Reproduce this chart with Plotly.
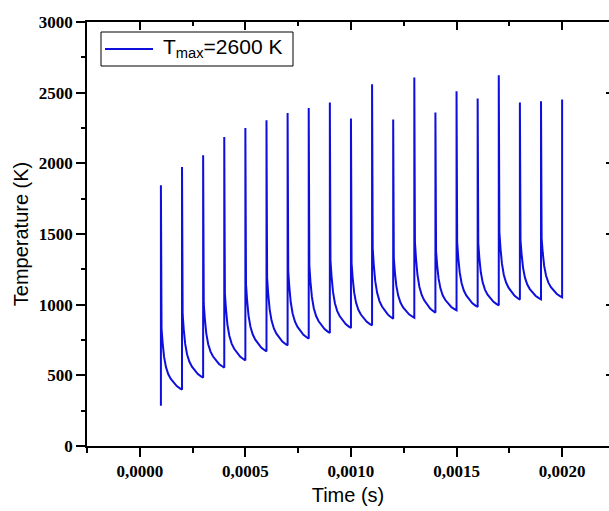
import plotly.graph_objects as go

# ---- data ----
pulse_times = [0.0001 * k for k in range(1, 21)]          # s
peak_temps = [1845, 1974, 2057, 2187, 2250, 2304, 2356, 2392, 2430, 2317,
              2559, 2310, 2607, 2359, 2510, 2458, 2623, 2430, 2439, 2451]
trough_temps = [399, 484, 555, 606, 670, 712, 760, 800, 835, 854,
                901, 908, 944, 960, 984, 995, 1036, 1038, 1052]
start_temp = 285
# decay shape: (fraction of period, fraction of peak-trough span)
decay_phase = [0.0, 0.004, 0.03, 0.08, 0.15, 0.24, 0.35, 0.47, 0.6, 0.75, 0.9, 1.0]
decay_level = [1.0, 0.45, 0.30, 0.23, 0.16, 0.11, 0.075, 0.052, 0.034, 0.017, 0.006, 0.0]
legend_label = "T<sub>max</sub>=2600 K"

period = 0.0001
t, T = [pulse_times[0]], [start_temp]
for i, tp in enumerate(pulse_times):
    pk = peak_temps[i]
    if i < len(trough_temps):
        tr = trough_temps[i]
        for ph, lv in zip(decay_phase, decay_level):
            t.append(tp + ph * period)
            T.append(tr + lv * (pk - tr))
    else:
        t.append(tp)
        T.append(pk)

line_color = "rgb(15,15,220)"

fig = go.Figure()
fig.add_trace(go.Scatter(x=t, y=T, mode="lines",
                         line=dict(color=line_color, width=2),
                         name=legend_label, showlegend=False))
fig.add_trace(go.Scatter(x=[None], y=[None], xaxis="x2", yaxis="y2",
                         showlegend=False, hoverinfo="skip"))

W, H = 609, 511
ML, MR, MT, MB = 87, 0, 22, 65
PW, PH = W - ML - MR, H - MT - MB


def px(x):
    return (x - ML) / PW


def py(y):
    return (H - MB - y) / PH


# legend box drawn to match the reference
shapes = [
    dict(type="rect", xref="paper", yref="paper",
         x0=px(101), x1=px(293), y0=py(66), y1=py(32),
         line=dict(color="black", width=1), fillcolor="white", layer="above"),
    dict(type="line", xref="paper", yref="paper",
         x0=px(105), x1=px(153), y0=py(49), y1=py(49),
         line=dict(color=line_color, width=2), layer="above"),
]
annotations = [
    dict(xref="paper", yref="paper", x=px(161), y=py(48), xanchor="left", yanchor="middle",
         text=legend_label, showarrow=False,
         font=dict(family="Liberation Sans", size=21, color="black")),
]

xr = [-0.00025, 0.002222]
yr = [0, 3000]
tickf = dict(family="Liberation Serif", size=17, color="black", weight="bold")
titlef = dict(family="Liberation Sans", size=20, color="black")

fig.update_layout(
    width=W, height=H,
    margin=dict(l=ML, r=MR, t=MT, b=MB),
    paper_bgcolor="white", plot_bgcolor="white",
    separators=",.",
    showlegend=False,
    shapes=shapes, annotations=annotations,
    xaxis=dict(range=xr, dtick=0.0005, tick0=0, tickformat=".4f",
               showline=True, linecolor="black", linewidth=1.5,
               ticks="outside", ticklen=9, tickwidth=1.5, tickcolor="black",
               minor=dict(dtick=0.00025, ticks="outside", ticklen=5, tickwidth=1.5, tickcolor="black"),
               showgrid=False, zeroline=False, tickfont=tickf,
               title=dict(text="Time (s)", font=titlef, standoff=8)),
    yaxis=dict(range=yr, dtick=500, tickformat="d",
               showline=True, linecolor="black", linewidth=1.5,
               ticks="outside", ticklen=9, tickwidth=1.5, tickcolor="black",
               minor=dict(dtick=250, ticks="outside", ticklen=4, tickwidth=1.5, tickcolor="black"),
               showgrid=False, zeroline=False, tickfont=tickf,
               title=dict(text="Temperature (K)", font=titlef, standoff=5)),
    xaxis2=dict(range=xr, overlaying="x", side="top", dtick=0.0005, tick0=0,
                showline=True, linecolor="black", linewidth=1.5,
                ticks="inside", ticklen=8, tickwidth=1.5, tickcolor="black",
                minor=dict(dtick=0.00025, ticks="inside", ticklen=4, tickwidth=1.5, tickcolor="black"),
                showticklabels=False, showgrid=False, zeroline=False),
    yaxis2=dict(range=yr, overlaying="y", side="right", dtick=500,
                showline=False, ticks="inside", ticklen=3, tickwidth=1.5, tickcolor="black",
                showticklabels=False, showgrid=False, zeroline=False),
)

fig.write_html("out.html")
